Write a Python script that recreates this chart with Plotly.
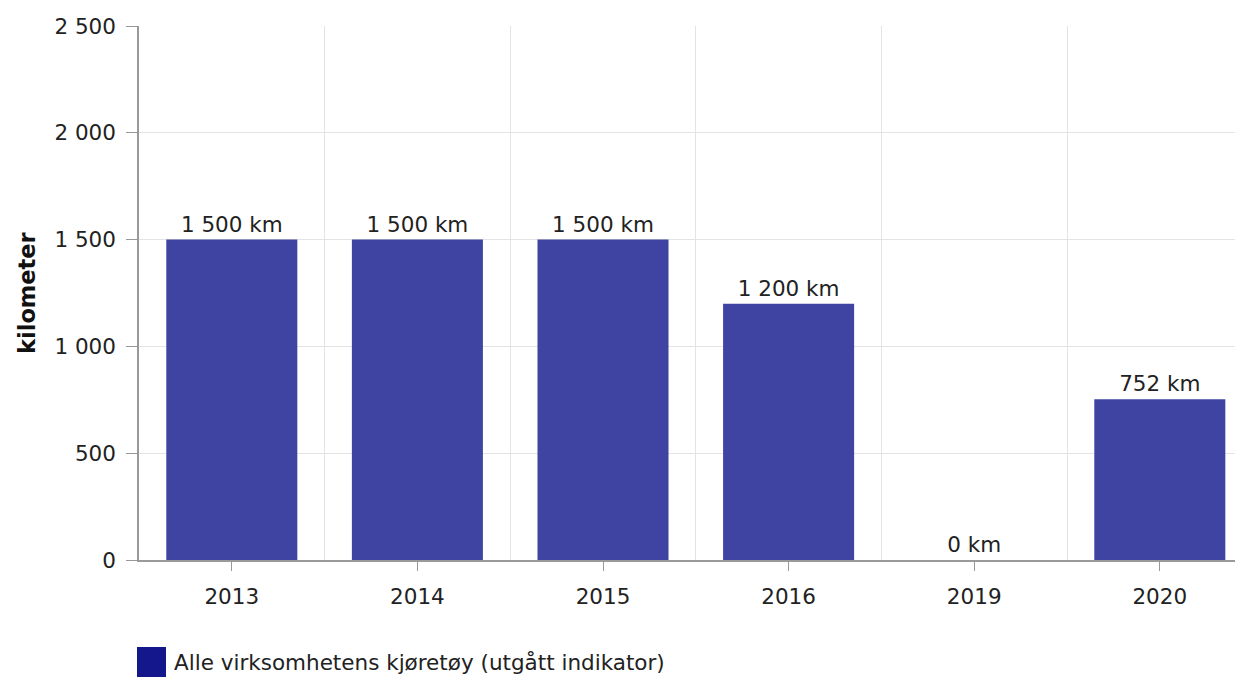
import plotly.graph_objects as go

years = ["2013", "2014", "2015", "2016", "2019", "2020"]
values = [1500, 1500, 1500, 1200, 0, 752]
y_ticks = [0, 500, 1000, 1500, 2000, 2500]
y_tick_labels = ["0", "500", "1 000", "1 500", "2 000", "2 500"]
series_name = "Alle virksomhetens kjøretøy (utgått indikator)"
y_title = "kilometer"

labels = [f"{v:,}".replace(",", " ") + " km" for v in values]

FONT = "Verdana, DejaVu Sans, sans-serif"
FS = 21.5

W, H = 1235, 669
L, T, B = 131, 18, 117
PW = W - L
PH = H - T - B
XR = [-0.5, -0.5 + PW / 185.6]

fig = go.Figure()
fig.add_trace(go.Bar(
    x=years, y=values, text=labels, textposition="outside",
    textfont=dict(size=FS, color="#222222", family=FONT),
    marker=dict(color="#3f44a2", line=dict(width=0)),
    width=0.706, showlegend=False, cliponaxis=False,
    name=series_name,
))
# overlay axis for boundary gridlines
fig.add_trace(go.Bar(x=years, y=[None] * len(years), xaxis="x2",
                     showlegend=False, hoverinfo="skip"))

fig.update_layout(
    width=W, height=H,
    margin=dict(l=L, r=0, t=T, b=B, pad=0),
    plot_bgcolor="white", paper_bgcolor="white",
    font=dict(family=FONT, size=FS, color="#222222"),
    xaxis=dict(type="category", range=XR, showgrid=False,
               ticks="outside", ticklen=9, tickcolor="#999999",
               ticklabelstandoff=7,
               showline=True, linecolor="#999999", linewidth=1.5,
               tickfont=dict(size=FS, color="#222222")),
    xaxis2=dict(type="category", overlaying="x", range=XR,
                tickson="boundaries", showgrid=True, gridcolor="#e3e3e3", gridwidth=1,
                showticklabels=False, ticks="", showline=False, side="bottom"),
    yaxis=dict(range=[0, 2500], tickvals=y_ticks, ticktext=y_tick_labels,
               showgrid=True, gridcolor="#e3e3e3", gridwidth=1,
               ticks="outside", ticklen=11, tickcolor="#999999",
               ticklabelstandoff=6,
               showline=True, linecolor="#999999", linewidth=1.5,
               zeroline=False, tickfont=dict(size=FS, color="#222222")),
    bargap=0.3,
)

# y-axis title
fig.add_annotation(xref="paper", yref="paper", x=(19 - L) / PW, y=0.5,
                   text="<b>" + y_title + "</b>", textangle=-90, showarrow=False,
                   xanchor="center", yanchor="middle",
                   font=dict(size=22.5, color="#111111", family=FONT))

# legend drawn manually with a large swatch
fig.add_shape(type="rect", xref="paper", yref="paper",
              x0=(129 - L) / PW, x1=(158 - L) / PW,
              y0=(PH + T - 669) / PH, y1=(PH + T - 639) / PH,
              fillcolor="#14168c", line=dict(width=0))
fig.add_annotation(xref="paper", yref="paper", x=(164 - L) / PW, y=(PH + T - 654) / PH,
                   text=series_name, showarrow=False, xanchor="left", yanchor="middle",
                   font=dict(size=FS, color="#222222", family=FONT))

fig.write_html("out.html")
